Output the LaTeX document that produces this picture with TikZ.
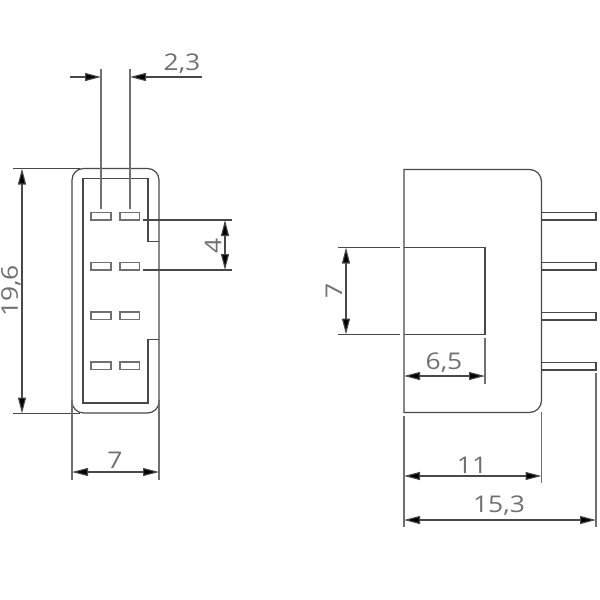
\documentclass[tikz,border=0pt]{standalone}
\usepackage{fontspec}
\setmainfont{Open Sans}
\usetikzlibrary{arrows.meta}
\definecolor{dimgray}{HTML}{707070}
\definecolor{bodyline}{HTML}{484848}
\tikzset{
  body/.style={draw=bodyline,line width=1.2pt},
  extline/.style={draw=dimgray,line width=1.2pt},
  dimline/.style={draw=bodyline,line width=1.1pt,{Triangle[length=16pt,width=8pt,fill=black]}-{Triangle[length=16pt,width=8pt,fill=black]}},
  tipin/.style={draw=bodyline,line width=1.1pt,-{Triangle[length=16pt,width=8pt,fill=black]}},
  dimtext/.style={text=dimgray,font=\fontsize{23pt}{25pt}\selectfont,inner sep=0pt},
  widetext/.style={dimtext,xscale=1.15},
  tallside/.style={dimtext,rotate=90,xscale=1.15},
  pad/.style={draw=dimgray,line width=1.2pt}
}
\begin{document}
\begin{tikzpicture}[x=1pt,y=-1pt]
\useasboundingbox (0,0) rectangle (600,600);
% left view: outer body
\draw[body,rounded corners=11.5pt] (72,168.5) rectangle (159,413);
% inner outline
\draw[body] (159,241.5) -- (148,241.5) -- (148,178.5) -- (83,178.5) -- (83,403) -- (148,403) -- (148,339.5) -- (159,339.5);
% pads
\foreach \y in {212.5,262.5,312,362}{
  \draw[pad] (91,\y) rectangle (111,\y+7.5);
  \draw[pad] (120,\y) rectangle (139.5,\y+7.5);
}
% 2,3
\draw[extline] (101,69) -- (101,209);
\draw[extline] (130,69) -- (130,209);
\coordinate (a23) at (70,77); \coordinate (b23) at (202,77);
\draw[tipin] (a23) -- (101,77);
\draw[tipin] (b23) -- (130,77);
\node[widetext] at (182,64) {2,3};
% 19,6
\draw[body] (13,168.5) -- (80,168.5);
\draw[body] (13,413.5) -- (80,413.5);
\draw[dimline] (22,168.5) -- (22,413.5);
\node[tallside] at (11,291) {19,6};
% 4
\draw[body] (143,220) -- (232,220);
\draw[body] (143,270) -- (232,270);
\draw[dimline] (225,220) -- (225,270);
\node[tallside] at (213,246) {4};
% 7 bottom
\draw[extline] (72,400) -- (72,480);
\draw[extline] (159,400) -- (159,480);
\draw[dimline] (72,472) -- (159,472);
\node[widetext] at (115,460) {7};
% right view body
\draw[body] (404,412.5) -- (404,169.5) [rounded corners=12pt] -- (541.5,169.5) -- (541.5,412.5) [sharp corners] -- cycle;
% pins
\foreach \y in {212.5,262.5,312.5,362.5}{
  \draw[body] (541.5,\y) -- (596,\y) -- (596,\y+7.5) -- (541.5,\y+7.5);
}
% inner square
\draw[body] (404,247.5) -- (485,247.5) -- (485,334.5) -- (404,334.5);
\draw[body] (338,247.5) -- (400,247.5);
\draw[body] (338,334.5) -- (400,334.5);
\draw[dimline] (346,247.5) -- (346,334.5);
\node[tallside] at (334,291) {7};
% 6,5
\draw[extline] (485,338) -- (485,384);
\draw[dimline] (404,376) -- (485,376);
\node[widetext] at (444,363) {6,5};
% 11 and 15,3
\draw[extline] (404,416) -- (404,527);
\draw[extline] (541.5,412) -- (541.5,483);
\draw[extline] (596,373) -- (596,527);
\draw[dimline] (404,476) -- (541.5,476);
\node[widetext] at (472,465) {11};
\draw[dimline] (404,520) -- (596,520);
\node[widetext] at (499,506) {15,3};
\end{tikzpicture}
\end{document}
